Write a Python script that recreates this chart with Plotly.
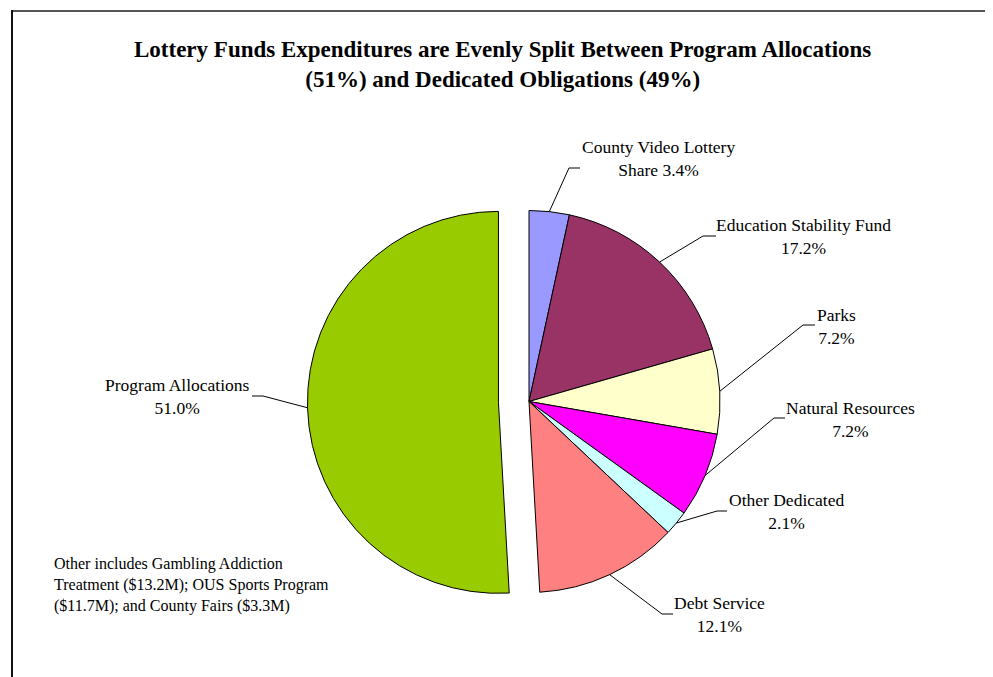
import math
import plotly.graph_objects as go

# ---- data ----
labels = ["County Video Lottery Share", "Education Stability Fund", "Parks",
          "Natural Resources", "Other Dedicated", "Debt Service", "Program Allocations"]
values = [3.4, 17.2, 7.2, 7.2, 2.1, 12.1, 51.0]
label_texts = ["County Video Lottery<br>Share 3.4%", "Education Stability Fund<br>17.2%",
               "Parks<br>7.2%", "Natural Resources<br>7.2%", "Other Dedicated<br>2.1%",
               "Debt Service<br>12.1%", "Program Allocations<br>51.0%"]
pulls = [0, 0, 0, 0, 0, 0, 0.16]
colors = ["#9999FF", "#993366", "#FFFFCC", "#FF00FF", "#CCFFFF", "#FF8080", "#99CC00"]

title_text = ("<b>Lottery Funds Expenditures are Evenly Split Between Program Allocations<br>"
              "(51%) and Dedicated Obligations (49%)</b>")
note_text = ("Other includes Gambling Addiction<br>Treatment ($13.2M); OUS Sports Program<br>"
             "($11.7M); and County Fairs ($3.3M)")

# ---- layout constants (screen pixels) ----
SW, SH = 993, 677
OFF = 8  # page body margin
W, H = SW - OFF, SH - OFF
CX, CY, R = 529, 401.5, 191
label_pos = [(658, 158), (803, 236), (836, 326), (850, 419), (786, 512), (719, 614), (177, 396)]
elbow = [(569, 580, 168), (703, 716, 236), (803, 815, 325), (774, 785, 418),
         (717, 727, 511), (662, 673, 614), (263, 252, 396)]

FONT = "Liberation Serif, Times New Roman, serif"


def px(x):
    return (x - OFF) / W


def py(y):
    return 1 - (y - OFF) / H


maxpull = max(pulls)
half = R * (1 + maxpull)
dom_x = [px(CX - half), px(CX + half)]
dom_y = [py(CY + half), py(CY - half)]

fig = go.Figure(go.Pie(
    labels=labels, values=values, pull=pulls, sort=False, direction="clockwise",
    rotation=0, textinfo="none", hoverinfo="label+percent",
    marker=dict(colors=colors, line=dict(color="black", width=1)),
    domain=dict(x=dom_x, y=dom_y), showlegend=False,
))

shapes = []
annotations = []
total = sum(values)
cum = 0
for i, v in enumerate(values):
    mid = (cum + v / 2) / total * 2 * math.pi
    cum += v
    rr = R * (1 + pulls[i])
    ax = CX + rr * math.sin(mid)
    ay = CY - rr * math.cos(mid)
    ex, hx, ey = elbow[i]
    shapes.append(dict(
        type="path", xref="paper", yref="paper",
        path=f"M {px(ax)},{py(ay)} L {px(ex)},{py(ey)} L {px(hx)},{py(ey)}",
        line=dict(color="black", width=1),
    ))
    lx, ly = label_pos[i]
    annotations.append(dict(
        x=px(lx), y=py(ly), xref="paper", yref="paper", text=label_texts[i],
        showarrow=False, xanchor="center", yanchor="middle", align="center",
        font=dict(family=FONT, size=17.5, color="black"),
    ))

annotations.append(dict(
    x=px(503), y=py(64.5), xref="paper", yref="paper", text=title_text,
    showarrow=False, xanchor="center", yanchor="middle", align="center",
    font=dict(family=FONT, size=23, color="black"),
))
annotations.append(dict(
    x=px(52), y=py(585), xref="paper", yref="paper", text=note_text,
    showarrow=False, xanchor="left", yanchor="middle", align="left",
    font=dict(family=FONT, size=16, color="black"),
))

# chart frame (top and left edges visible)
shapes.append(dict(type="line", xref="paper", yref="paper",
                   x0=px(11), x1=1.05, y0=py(11), y1=py(11),
                   line=dict(color="#555555", width=2)))
shapes.append(dict(type="line", xref="paper", yref="paper",
                   x0=px(12), x1=px(12), y0=py(10), y1=-0.05,
                   line=dict(color="#111111", width=2)))

fig.update_layout(
    width=W, height=H, margin=dict(l=0, r=0, t=0, b=0),
    paper_bgcolor="white", plot_bgcolor="white",
    shapes=shapes, annotations=annotations,
)

fig.write_html("out.html")
